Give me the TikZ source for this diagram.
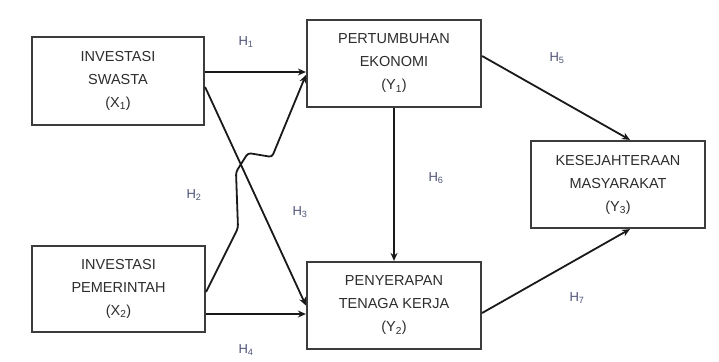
\documentclass[tikz,border=0pt]{standalone}
\usepackage{fontspec}
\setmainfont{Liberation Sans}
\usetikzlibrary{calc,arrows.meta}
\definecolor{boxtext}{RGB}{45,45,45}
\definecolor{labtext}{RGB}{80,85,120}
\definecolor{lineclr}{RGB}{25,25,25}
\begin{document}
\begin{tikzpicture}[x=1pt,y=-1pt,
  varbox/.style={draw=lineclr!85!white,line width=2.2pt,rectangle,align=center,
    text=boxtext,font=\fontsize{14.5}{23}\selectfont,inner sep=0pt},
  conn/.style={line width=1.8pt,draw=lineclr,-{Stealth[length=8pt,width=7pt]}},
  hlab/.style={text=labtext,font=\fontsize{13}{15}\selectfont,inner sep=0pt}]
\useasboundingbox (0,0) rectangle (719,361);
\fill[white] (0,0) rectangle (719,361);
\node[varbox,minimum width=172pt,minimum height=88pt] (X1) at (118,81) {INVESTASI\\SWASTA\\(X\textsubscript{1})};
\node[varbox,minimum width=173pt,minimum height=86pt] (X2) at (118.5,289) {INVESTASI\\PEMERINTAH\\(X\textsubscript{2})};
\node[varbox,minimum width=174pt,minimum height=87pt] (Y1) at (394,63.5) {PERTUMBUHAN\\EKONOMI\\(Y\textsubscript{1})};
\node[varbox,minimum width=174pt,minimum height=87pt] (Y2) at (394,305.5) {PENYERAPAN\\TENAGA KERJA\\(Y\textsubscript{2})};
\node[varbox,minimum width=174pt,minimum height=87pt] (Y3) at (618,184.5) {KESEJAHTERAAN\\MASYARAKAT\\(Y\textsubscript{3})};
% connectors
\draw[conn] ($(X1.east)+(0,-9)$) -- ($(Y1.west)+(0,8.5)$);
\draw[conn] ($(X1.east)+(0,6)$) -- (Y2.west);
\coordinate (k1) at (238,228);
\coordinate (k2) at (236,172);
\coordinate (k3) at (248,153);
\coordinate (k4) at (272,157);
\draw[conn,rounded corners=3pt] ($(X2.east)+(0,3)$) -- (k1) -- (k2) -- (k3) -- (k4) -- ($(Y1.west)+(0,11.5)$);
\draw[conn] ($(X2.east)+(0,25)$) -- ($(Y2.west)+(0,8.5)$);
\draw[conn] (Y1.south) -- (Y2.north);
\draw[conn] ($(Y1.east)+(0,-7.5)$) -- ($(Y3.north)+(12,0)$);
\draw[conn] ($(Y2.east)+(0,7.5)$) -- ($(Y3.south)+(12,0)$);
% labels
\node[hlab] (h1) at (246,42) {H\textsubscript{1}};
\node[hlab] (h2) at (194,195) {H\textsubscript{2}};
\node[hlab] (h3) at (300,212) {H\textsubscript{3}};
\node[hlab] (h4) at (246,350) {H\textsubscript{4}};
\node[hlab] (h5) at (557,58) {H\textsubscript{5}};
\node[hlab] (h6) at (436,178) {H\textsubscript{6}};
\node[hlab] (h7) at (577,298) {H\textsubscript{7}};
\end{tikzpicture}
\end{document}
